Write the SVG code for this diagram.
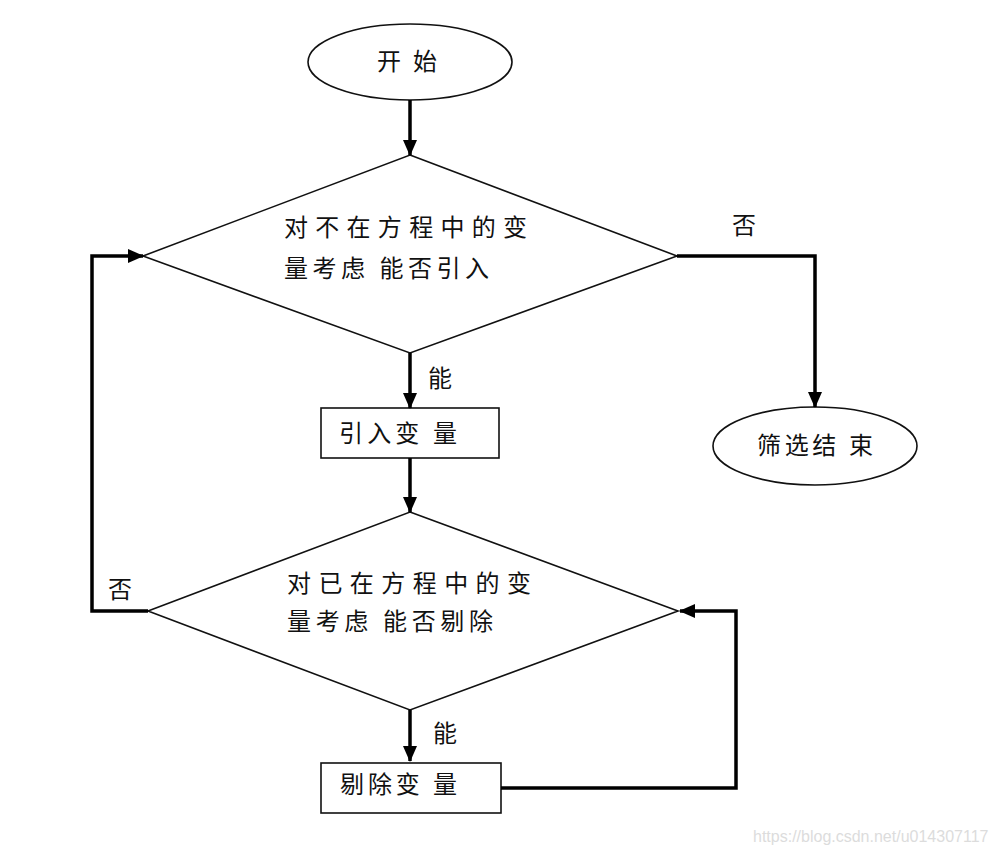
<svg xmlns="http://www.w3.org/2000/svg" width="997" height="856" viewBox="0 0 997 856">
<style>
.shape{fill:#fff;stroke:#111;stroke-width:1.6}
.conn{fill:none;stroke:#000;stroke-width:3.5}
.t{font-family:"Noto Sans CJK SC","Noto Sans",sans-serif;font-size:24px;fill:#111}
.wm{font-family:"Liberation Sans",Arial,sans-serif;font-size:16px;fill:#dcdcdc}
</style>
<defs>
<marker id="ah" markerUnits="userSpaceOnUse" markerWidth="16" markerHeight="16" viewBox="0 0 16 16" refX="15" refY="8" orient="auto">
<path d="M0,1 L16,8 L0,15 Z" fill="#000"/>
</marker>
</defs>
<rect width="997" height="856" fill="#fff"/>
<g id="start">
<ellipse class="shape" cx="410" cy="62" rx="102" ry="38"/>
<text class="t" x="377" y="70" textLength="60" lengthAdjust="spacing">开始</text>
</g>
<g id="decide-add">
<polygon class="shape" points="410,155 677,256 410,353 143,256"/>
<text class="t" x="284" y="236" textLength="243" lengthAdjust="spacing">对不在方程中的变</text>
<text class="t" x="284" y="277" textLength="205" lengthAdjust="spacing">量考虑 能否引入</text>
</g>
<g id="add-var">
<rect class="shape" x="321" y="408" width="178" height="50"/>
<text class="t" x="339" y="442" textLength="118" lengthAdjust="spacing">引入变 量</text>
</g>
<g id="decide-remove">
<polygon class="shape" points="410,512 678,611 410,710 148,611"/>
<text class="t" x="287" y="592" textLength="244" lengthAdjust="spacing">对已在方程中的变</text>
<text class="t" x="287" y="630" textLength="206" lengthAdjust="spacing">量考虑 能否剔除</text>
</g>
<g id="remove-var">
<rect class="shape" x="321" y="763" width="180" height="50"/>
<text class="t" x="340" y="793" textLength="117" lengthAdjust="spacing">剔除变 量</text>
</g>
<g id="end">
<ellipse class="shape" cx="815" cy="446" rx="102" ry="39"/>
<text class="t" x="757" y="454" textLength="116" lengthAdjust="spacing">筛选结 束</text>
</g>
<g id="connectors">
<path class="conn" d="M410,100 V155" marker-end="url(#ah)"/>
<path class="conn" d="M410,353 V408" marker-end="url(#ah)"/>
<path class="conn" d="M410,458 V512" marker-end="url(#ah)"/>
<path class="conn" d="M410,710 V761" marker-end="url(#ah)"/>
<path class="conn" d="M677,256 H815 V407" marker-end="url(#ah)"/>
<path class="conn" d="M148,611 H92 V256 H143" marker-end="url(#ah)"/>
<path class="conn" d="M501,788 H736 V611 H680" marker-end="url(#ah)"/>
<text class="t" x="428" y="387">能</text>
<text class="t" x="433" y="742">能</text>
<text class="t" x="732" y="234">否</text>
<text class="t" x="108" y="598">否</text>
</g>
<text class="wm" x="753" y="842">https://blog.csdn.net/u014307117</text>
</svg>
